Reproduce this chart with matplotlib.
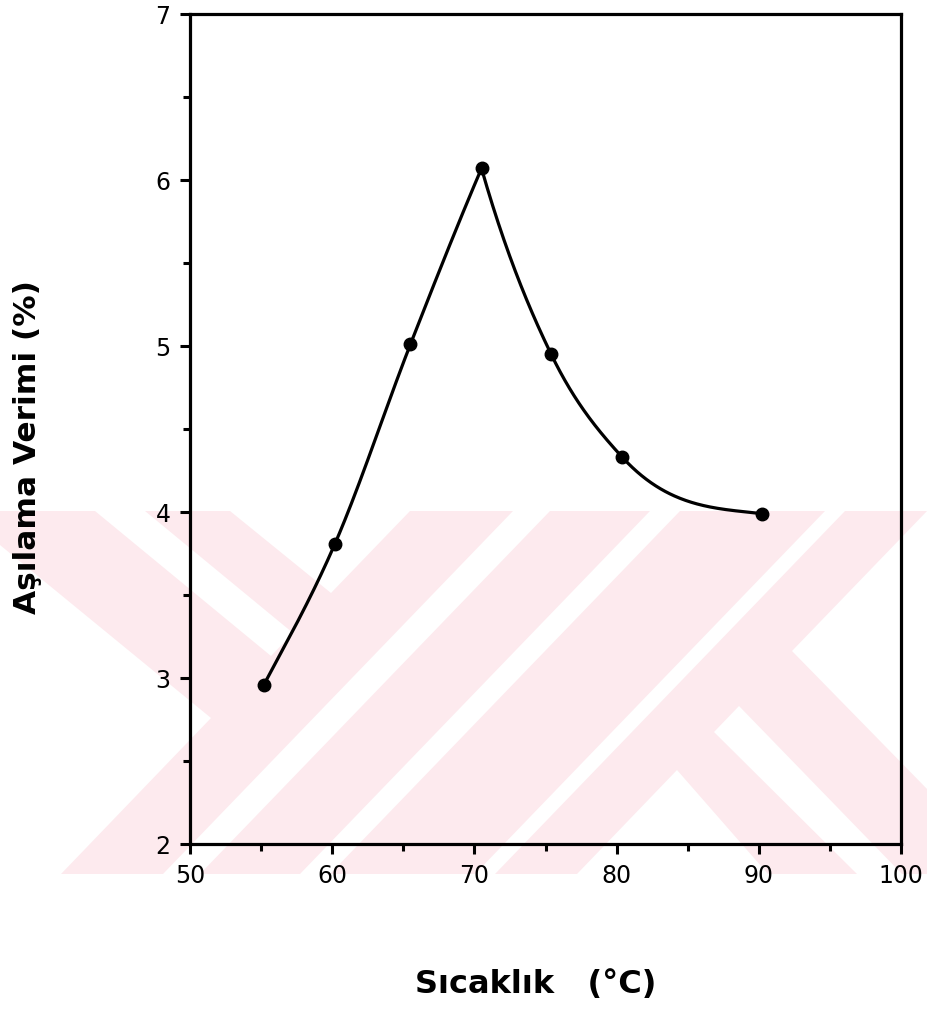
import numpy as np
import matplotlib
matplotlib.use("Agg")
import matplotlib.pyplot as plt
from matplotlib.patches import Polygon
from matplotlib.ticker import MultipleLocator

# grafting yield vs. temperature
temps = [55.2, 60.2, 65.5, 70.5, 75.4, 80.4, 90.2]
yields = [2.96, 3.81, 5.01, 6.07, 4.95, 4.33, 3.99]
peak = 3

x_ticks = [50, 60, 70, 80, 90, 100]
y_ticks = [2, 3, 4, 5, 6, 7]


def hermite_branch(x, y, m_start, m_end, n=200):
    # smooth cubic through one branch; inner slopes are weighted secant averages
    x = np.asarray(x, float)
    y = np.asarray(y, float)
    h = np.diff(x)
    d = np.diff(y) / h
    m = np.empty_like(y)
    m[0], m[-1] = m_start, m_end
    for k in range(1, len(x) - 1):
        m[k] = (h[k] * d[k - 1] + h[k - 1] * d[k]) / (h[k - 1] + h[k])
    xs = np.linspace(x[0], x[-1], n)
    idx = np.clip(np.searchsorted(x, xs) - 1, 0, len(x) - 2)
    t = (xs - x[idx]) / h[idx]
    h00 = 2 * t**3 - 3 * t**2 + 1
    h10 = t**3 - 2 * t**2 + t
    h01 = -2 * t**3 + 3 * t**2
    h11 = t**3 - t**2
    ys = h00 * y[idx] + h10 * h[idx] * m[idx] + h01 * y[idx + 1] + h11 * h[idx] * m[idx + 1]
    return xs, ys


fig = plt.figure(figsize=(9.28, 10.2), dpi=100)

# pale pink watermark in the background (pixel coordinates)
bg = fig.add_axes([0, 0, 1, 1], zorder=0)
bg.set_xlim(0, 928)
bg.set_ylim(1020, 0)
bg.axis("off")
pink = "#fdeaee"
bg.add_patch(Polygon([(0, 512), (928, 512), (928, 875), (0, 875)], closed=True,
                     fc=pink, ec="none"))
white_parts = [
    [(0, 546), (211, 719), (61, 875), (0, 875)],
    [(95, 512), (145, 512), (293, 634), (271, 657)],
    [(230, 512), (410, 512), (331, 594)],
    [(513, 512), (550, 512), (200, 875), (163, 875)],
    [(650, 512), (680, 512), (330, 875), (300, 875)],
    [(825, 512), (845, 512), (495, 875), (475, 875)],
    [(577, 875), (677, 771), (768, 875)],
    [(714, 733), (739, 707), (902, 875), (857, 875)],
    [(792, 652), (928, 511), (928, 791)],
]
for pts in white_parts:
    bg.add_patch(Polygon(pts, closed=True, fc="white", ec="none"))

ax = fig.add_axes([190 / 928, 1 - 845 / 1020, 711 / 928, 830 / 1020], zorder=1)
ax.patch.set_alpha(0)

# rising and falling branches meet in a sharp peak
up_x, up_y = hermite_branch(temps[:peak + 1], yields[:peak + 1], 0.16, 0.20)
dn_x, dn_y = hermite_branch(temps[peak:], yields[peak:], -0.30, -0.01, n=300)
ax.plot(np.concatenate([up_x, dn_x]), np.concatenate([up_y, dn_y]),
        color="black", lw=2.3, solid_joinstyle="miter")
ax.plot(temps, yields, "o", color="black", ms=9)

ax.set_xlim(50, 100)
ax.set_ylim(2, 7)
ax.set_xticks(x_ticks)
ax.set_yticks(y_ticks)
ax.xaxis.set_minor_locator(MultipleLocator(5))
ax.yaxis.set_minor_locator(MultipleLocator(0.5))
ax.tick_params(which="both", direction="out", width=2.2, top=False, right=False)
ax.tick_params(which="major", length=7, labelsize=17, pad=7)
ax.tick_params(which="minor", length=5)
for s in ax.spines.values():
    s.set_linewidth(2.3)

fig.text(536 / 928, 1 - 985 / 1020, "Sıcaklık   (°C)", ha="center", va="center",
         fontsize=23, fontweight="bold")
fig.text(28 / 928, 1 - 447 / 1020, "Aşılama Verimi (%)", ha="center", va="center",
         rotation=90, fontsize=22.5, fontweight="bold")

fig.savefig("out.png", dpi=100)
